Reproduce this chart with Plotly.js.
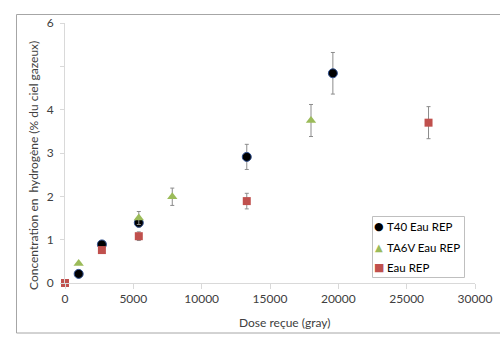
<!DOCTYPE html>
<html>
<head>
<meta charset="utf-8">
<script src="https://cdn.plot.ly/plotly-3.0.1.min.js"></script>
<style>html,body{margin:0;padding:0;background:#fff;}#chart{width:500px;height:338px;}</style>
</head>
<body>
<div id="chart"></div>
<script>
// Data
const t40Dose = [1000, 2700, 5400, 13300, 19600];
const t40H2 = [0.21, 0.89, 1.39, 2.91, 4.84];
const t40Err = [0.0, 0.0, 0.1, 0.29, 0.48];

const ta6vDose = [1000, 5400, 7850, 18000];
const ta6vH2 = [0.45, 1.50, 1.99, 3.75];
const ta6vErr = [0.0, 0.15, 0.2, 0.37];

const eauDose = [0, 2700, 5400, 13300, 26600];
const eauH2 = [0, 0.76, 1.08, 1.89, 3.70];
const eauErr = [0.0, 0.0, 0.1, 0.18, 0.37];

const seriesNames = ['T40 Eau REP', 'TA6V Eau REP', 'Eau REP'];
const seriesColors = ['#000000', '#9bbb59', '#c0504d'];
const legendGlyphs = ['●', '▲', '■'];

const xTicks = [0, 5000, 10000, 15000, 20000, 25000, 30000];
const yTicks = [0, 1, 2, 3, 4, 5, 6];
const yTickText = ['0', '1', '2', '3', '4', '', '6'];

const xTitle = 'Dose reçue (gray)';
const yTitle = 'Concentration en  hydrogène (% du ciel gazeux)';

const errStyle = (arr) => ({type: 'data', array: arr, visible: true, color: '#8c8c8c', thickness: 1, width: 2});
const FONT = 'Lato, "Open Sans", "Liberation Sans", sans-serif';
const TXT = '#404040';

const traces = [
  {
    x: t40Dose, y: t40H2, name: seriesNames[0], type: 'scatter', mode: 'markers', cliponaxis: false,
    marker: {symbol: 'circle', size: 9, color: seriesColors[0], line: {color: '#2f4f8f', width: 1}},
    error_y: errStyle(t40Err)
  },
  {
    x: ta6vDose, y: ta6vH2, name: seriesNames[1], type: 'scatter', mode: 'markers', cliponaxis: false,
    marker: {symbol: 'triangle-up', size: 9, color: seriesColors[1]},
    error_y: errStyle(ta6vErr)
  },
  {
    x: eauDose, y: eauH2, name: seriesNames[2], type: 'scatter', mode: 'markers', cliponaxis: false,
    marker: {symbol: 'square', size: 8, color: seriesColors[2]},
    error_y: errStyle(eauErr)
  }
];

const L = 65, R = 25, T = 23, B = 55, W = 500, H = 338;
const plotW = W - L - R, plotH = H - T - B;
const px = (p) => (p - L) / plotW;
const py = (p) => (H - B - p) / plotH;

const shapes = [
  // outer chart frame (left, top, bottom)
  {type: 'line', xref: 'paper', yref: 'paper', x0: px(16.5), x1: px(16.5), y0: py(14.5), y1: py(333), line: {color: '#a6a6a6', width: 1}},
  {type: 'line', xref: 'paper', yref: 'paper', x0: px(16.5), x1: px(500), y0: py(14.5), y1: py(14.5), line: {color: '#a6a6a6', width: 1}},
  {type: 'line', xref: 'paper', yref: 'paper', x0: px(16.5), x1: px(500), y0: py(333), y1: py(333), line: {color: '#a6a6a6', width: 1}},
  // legend box
  {type: 'rect', xref: 'paper', yref: 'paper', x0: px(372.5), x1: px(464.5), y0: py(216.5), y1: py(277.5),
   fillcolor: '#ffffff', line: {color: '#bfbfbf', width: 1}}
];

const annotations = [
  {xref: 'paper', yref: 'paper', x: px(33), y: py(166), text: yTitle, textangle: -90, showarrow: false,
   xanchor: 'center', yanchor: 'middle', font: {family: FONT, size: 12, color: TXT}},
  {xref: 'paper', yref: 'paper', x: px(284), y: py(322), text: xTitle, showarrow: false,
   xanchor: 'center', yanchor: 'middle', font: {family: FONT, size: 12, color: TXT}}
];
const legendY = [226, 247, 267];
const glyphSize = [11, 10, 11];
seriesNames.forEach((n, i) => {
  annotations.push({xref: 'paper', yref: 'paper', x: px(379), y: py(legendY[i]), text: legendGlyphs[i], showarrow: false,
    xanchor: 'center', yanchor: 'middle', font: {family: '"DejaVu Sans", sans-serif', size: glyphSize[i], color: seriesColors[i]}});
  annotations.push({xref: 'paper', yref: 'paper', x: px(385), y: py(legendY[i]), text: n, showarrow: false,
    xanchor: 'left', yanchor: 'middle', font: {family: FONT, size: 11.5, color: '#000000'}});
});

const layout = {
  width: W, height: H,
  margin: {l: L, r: R, t: T, b: B},
  paper_bgcolor: '#ffffff', plot_bgcolor: '#ffffff',
  font: {family: FONT, size: 12, color: TXT},
  showlegend: false,
  xaxis: {
    range: [0, 30000], tickvals: xTicks, ticktext: xTicks.map(String),
    showgrid: false, zeroline: false, showline: true, linecolor: '#d9d9d9', linewidth: 1,
    ticks: 'outside', ticklen: 5, tickcolor: '#d9d9d9',
    tickfont: {family: FONT, size: 12, color: TXT}
  },
  yaxis: {
    range: [0, 6], tickvals: yTicks, ticktext: yTickText,
    showgrid: false, zeroline: false, showline: true, linecolor: '#d9d9d9', linewidth: 1,
    ticks: 'outside', ticklen: 4, tickcolor: '#d9d9d9', ticklabelstandoff: 4,
    tickfont: {family: FONT, size: 12, color: TXT}
  },
  shapes: shapes,
  annotations: annotations
};

Plotly.newPlot('chart', traces, layout, {displayModeBar: false, staticPlot: true});
</script>
</body>
</html>
